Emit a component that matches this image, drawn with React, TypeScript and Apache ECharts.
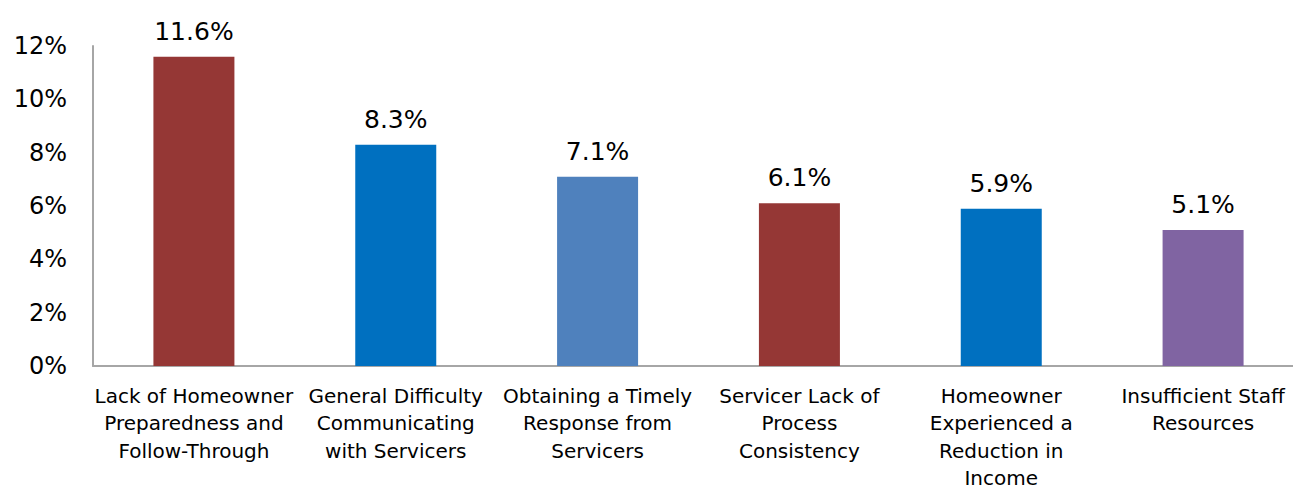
import React, { useEffect, useRef } from "react";
import * as echarts from "echarts";

const categories = [
  "Lack of Homeowner\nPreparedness and\nFollow-Through",
  "General Difficulty\nCommunicating\nwith Servicers",
  "Obtaining a Timely\nResponse from\nServicers",
  "Servicer Lack of\nProcess\nConsistency",
  "Homeowner\nExperienced a\nReduction in\nIncome",
  "Insufficient Staff\nResources",
];
const values = [11.6, 8.3, 7.1, 6.1, 5.9, 5.1];
const barColors = ["#953735", "#0070C0", "#4F81BD", "#953735", "#0070C0", "#8064A2"];

export default function App() {
  const ref = useRef<HTMLDivElement>(null);
  useEffect(() => {
    if (!ref.current) return;
    const chart = echarts.init(ref.current, undefined, { renderer: "svg" });
    const font = "DejaVu Sans";
    chart.setOption({
      animation: false,
      grid: {
        left: 93,
        top: 46,
        width: 1211,
        height: 320,
        containLabel: false,
        outerBoundsMode: "none",
      },
      xAxis: {
        type: "category",
        data: categories,
        axisLine: { show: true, lineStyle: { color: "#a6a6a6", width: 2 } },
        axisTick: { show: false },
        axisLabel: {
          interval: 0,
          color: "#000",
          fontFamily: font,
          fontSize: 20,
          lineHeight: 27.5,
          margin: 16,
        },
      },
      yAxis: {
        type: "value",
        min: 0,
        max: 12,
        interval: 2,
        splitLine: { show: false },
        axisLine: { show: true, lineStyle: { color: "#a6a6a6", width: 2 } },
        axisTick: { show: false },
        axisLabel: {
          color: "#000",
          fontFamily: font,
          fontSize: 24,
          margin: 26,
          formatter: (v: number) => v + "%",
        },
      },
      series: [
        {
          type: "bar",
          barWidth: 81,
          data: values.map((v, i) => ({ value: v, itemStyle: { color: barColors[i] } })),
          label: {
            show: true,
            position: "top",
            distance: 13,
            color: "#000",
            fontFamily: font,
            fontSize: 25,
            formatter: (p: any) => p.value.toFixed(1) + "%",
          },
        },
      ],
    });
    return () => chart.dispose();
  }, []);
  return (
    <div
      ref={ref}
      style={{ position: "absolute", left: 0, top: 0, width: 1293, height: 487, background: "#fff" }}
    />
  );
}
